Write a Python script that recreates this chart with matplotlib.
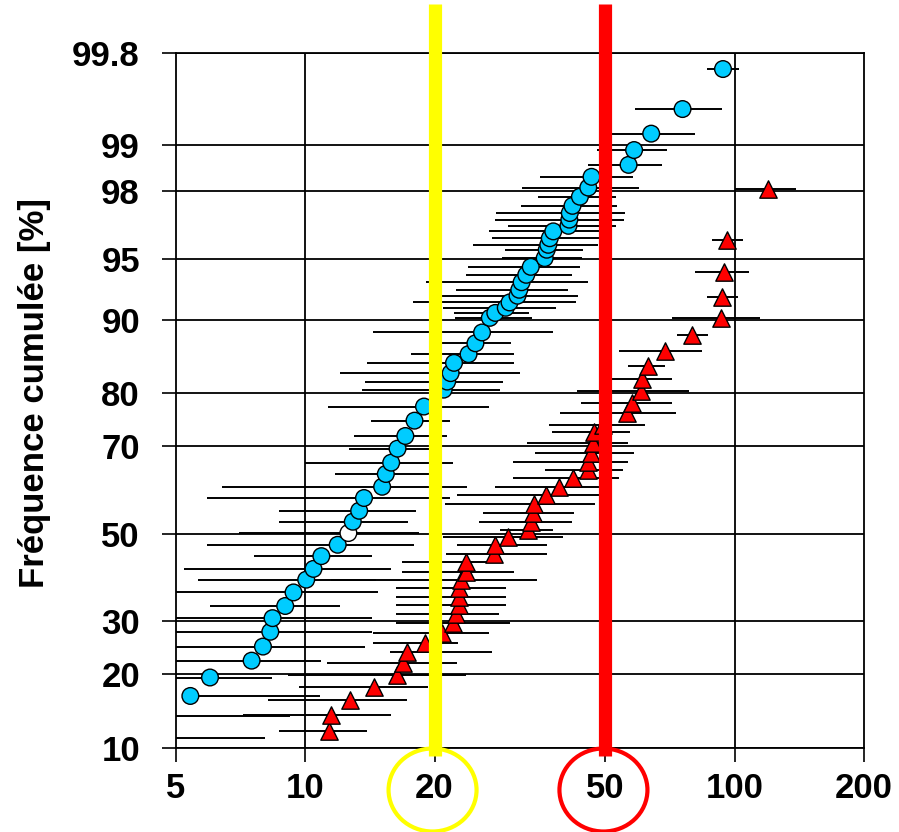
import numpy as np
import matplotlib
matplotlib.use('Agg')
import matplotlib.pyplot as plt
from matplotlib import transforms
from matplotlib.patches import Ellipse
from matplotlib.ticker import NullLocator
from statistics import NormalDist

plt.rcParams['font.family'] = ['Liberation Sans', 'DejaVu Sans']
plt.rcParams['font.weight'] = 'bold'

# blue series (circles): cumulative frequency [%], value, lower / upper bound
blue_pct = [11.1, 13.8, 16.6, 19.5, 22.4, 25.0, 27.9, 30.7, 33.3, 36.3,
            39.2, 41.7, 44.7, 47.4, 50.2, 52.9, 55.5, 58.5, 61.1, 64.0,
            66.5, 69.5, 72.1, 75.1, 77.7, 80.6, 81.9, 83.2, 84.7, 85.9,
            87.3, 88.6, 90.2, 90.7, 91.2, 91.7, 92.3, 92.8, 93.4, 93.95,
            94.5, 95.06, 95.55, 95.82, 96.16, 96.49, 96.74, 97.0, 97.26, 97.52,
            97.82, 98.09, 98.37, 98.64, 98.92, 99.17, 99.45, 99.73]
blue_x = [4.3, 4.6, 5.4, 6.0, 7.5, 7.97, 8.29, 8.39, 8.98, 9.39,
          10.05, 10.45, 10.9, 11.9, 12.6, 12.9, 13.35, 13.7, 15.1, 15.4,
          15.85, 16.4, 17.1, 17.96, 18.9, 21.0, 21.4, 21.8, 22.2, 24.0,
          24.9, 25.8, 26.9, 27.7, 29.3, 29.9, 31.2, 31.5, 31.9, 32.7,
          33.5, 36.1, 36.5, 36.8, 37.1, 37.8, 41.0, 41.2, 41.3, 41.9,
          43.6, 45.6, 46.4, 56.6, 58.3, 63.9, 75.6, 93.9]
blue_lo = [3.8, 4.0, 5.2, 4.0, 4.4, 4.2, 4.3, 4.0, 6.01, 4.5,
           5.62, 5.21, 7.61, 5.91, 7.0, 8.7, 8.7, 5.91, 6.4, 11.7,
           10.0, 12.66, 13.0, 14.2, 11.27, 13.55, 13.8, 12.06, 13.9, 17.6,
           20.7, 14.4, 22.3, 22.2, 20.9, 17.8, 19.4, 22.4, 19.1, 23.7,
           23.9, 28.7, 29.2, 24.6, 27.2, 26.8, 29.6, 27.7, 27.8, 31.8,
           34.9, 31.9, 35.2, 45.6, 47.8, 48.5, 58.5, 86.2]
blue_hi = [8.04, 9.23, 10.8, 8.36, 10.9, 13.8, 14.3, 14.3, 12.06, 14.8,
           14.6, 15.8, 14.3, 17.96, 18.4, 17.3, 18.1, 21.7, 23.8, 19.7,
           22.1, 20.4, 21.4, 21.7, 26.8, 28.4, 28.8, 31.6, 30.7, 30.7,
           30.1, 37.8, 33.7, 33.2, 38.3, 42.6, 43.1, 40.8, 45.6, 41.9,
           43.6, 44.0, 44.4, 48.0, 48.5, 49.6, 52.8, 55.2, 55.5, 53.1,
           52.8, 59.8, 58.0, 67.7, 69.6, 81.0, 93.6, 102.3]
blue_open = [50.2]  # point drawn with an empty (white) marker

# red series (triangles)
red_pct = [11.94, 13.92, 16.0, 17.93, 19.92, 22.04, 24.05, 25.76, 27.6, 29.77,
           31.6, 33.54, 35.37, 37.25, 39.15, 41.07, 43.41, 45.23, 47.37, 49.36,
           50.96, 52.94, 54.93, 57.13, 59.23, 61.15, 63.06, 64.92, 66.75, 68.68,
           70.77, 72.99, 74.3, 76.44, 78.41, 80.41, 82.33, 84.32, 86.25, 88.25,
           90.18, 92.18, 94.14, 96.08, 98.05]
red_x = [11.33, 11.49, 12.68, 14.47, 16.34, 16.93, 17.24, 19.0, 20.79, 22.13,
         22.45, 22.85, 22.85, 22.85, 23.02, 23.68, 23.68, 27.5, 27.7, 29.6,
         33.06, 33.5, 33.96, 34.15, 36.35, 39.03, 42.07, 45.45, 45.6, 46.2,
         46.7, 47.0, 49.3, 56.0, 57.8, 60.4, 60.8, 62.8, 68.8, 79.7,
         92.8, 93.6, 94.3, 96.2, 119.5]
red_lo = [8.70, 7.18, 8.20, 9.68, 9.11, 11.25, 15.77, 14.39, 14.39, 16.28,
          16.28, 16.28, 16.28, 16.28, 11.49, 16.79, 16.84, 21.28, 22.57, 20.9,
          28.4, 25.43, 25.98, 21.17, 22.54, 27.7, 30.41, 36.14, 30.41, 34.27,
          32.9, 37.48, 36.94, 39.2, 43.77, 42.97, 49.85, 56.3, 53.7, 73.2,
          71.6, 86.2, 80.7, 88.6, 100.0]
red_hi = [13.92, 15.8, 17.24, 19.32, 23.7, 22.5, 27.2, 22.7, 26.8, 29.98,
          28.3, 29.4, 29.4, 29.4, 34.6, 30.6, 27.7, 36.5, 36.5, 39.9,
          37.8, 41.84, 42.3, 47.26, 48.5, 49.3, 53.8, 54.8, 56.4, 58.2,
          56.4, 57.0, 61.97, 72.9, 71.6, 78.2, 71.25, 68.8, 84.1, 86.7,
          114.3, 101.8, 108.0, 104.5, 139.2]

x_ticks = [5, 10, 20, 50, 100, 200]
y_ticks = [10, 20, 30, 50, 70, 80, 90, 95, 98, 99, 99.8]
y_ticklabels = ['10', '20', '30', '50', '70', '80', '90', '95', '98', '99', '99.8']
marked = [20, 50]
marked_colors = ['#FFFF00', '#FF0000']

nd = NormalDist()


def to_z(p):
    p = np.clip(np.asarray(p, dtype=float) / 100.0, 1e-9, 1 - 1e-9)
    return np.vectorize(nd.inv_cdf, otypes=[float])(p)


def from_z(z):
    z = np.asarray(z, dtype=float)
    return np.vectorize(nd.cdf, otypes=[float])(z) * 100.0


fig = plt.figure(figsize=(8.99, 8.32), dpi=100)
ax = fig.add_axes([176 / 899, 84 / 832, 688 / 899, 695 / 832])
ax.set_xscale('log')
ax.set_yscale('function', functions=(to_z, from_z))

bx = np.array(blue_x)
rx = np.array(red_x)
ax.errorbar(bx, blue_pct, xerr=[bx - np.array(blue_lo), np.array(blue_hi) - bx],
            fmt='none', ecolor='black', elinewidth=1.4, capsize=0, zorder=2)
ax.errorbar(rx, red_pct, xerr=[rx - np.array(red_lo), np.array(red_hi) - rx],
            fmt='none', ecolor='black', elinewidth=1.4, capsize=0, zorder=2)

blue_fc = ['white' if p in blue_open else '#00CCFF' for p in blue_pct]
ax.scatter(bx, blue_pct, s=12 ** 2, c=blue_fc, edgecolors='black',
           linewidths=1.0, zorder=3)
ax.scatter(rx, red_pct, s=12.5 ** 2, marker='^', c='#FF0000', edgecolors='black',
           linewidths=1.0, zorder=3)

# vertical grid only at the decades
for xv in (10, 100):
    ax.axvline(xv, color='black', lw=1.3, zorder=0.5)
ax.yaxis.grid(True, color='black', lw=1.3)
ax.set_axisbelow(True)

ax.set_xlim(5, 200)
ax.set_ylim(10, 99.8)
ax.set_xticks(x_ticks)
ax.set_xticklabels([str(v) for v in x_ticks])
ax.set_yticks(y_ticks)
ax.set_yticklabels(y_ticklabels)
ax.xaxis.set_minor_locator(NullLocator())
ax.yaxis.set_minor_locator(NullLocator())
ax.tick_params(axis='both', length=10, width=1.2, labelsize=25, color='black')
ax.tick_params(axis='x', pad=7)
ax.tick_params(axis='y', pad=16)
for s in ax.spines.values():
    s.set_linewidth(1.3)
    s.set_color('black')

ax.set_ylabel('Fréquence cumulée [%]', fontsize=25, fontweight='bold', va='center')
ax.yaxis.set_label_coords(-0.205, 0.511)

# thick markers at 20 and 50, running from the top of the figure into the rings
trans = transforms.blended_transform_factory(ax.transData, fig.transFigure)
for xv, col in zip(marked, marked_colors):
    ax.plot([xv, xv], [0.0913, 0.995], transform=trans, color=col, lw=9.5,
            solid_capstyle='butt', clip_on=False, zorder=6)
    px = ax.transData.transform((xv, 50))[0]
    fig.add_artist(Ellipse((px - 2, 42), 88, 83, transform=transforms.IdentityTransform(),
                           fill=False, edgecolor=col, lw=3, zorder=6))

fig.savefig('out.png', dpi=100, facecolor='white')
